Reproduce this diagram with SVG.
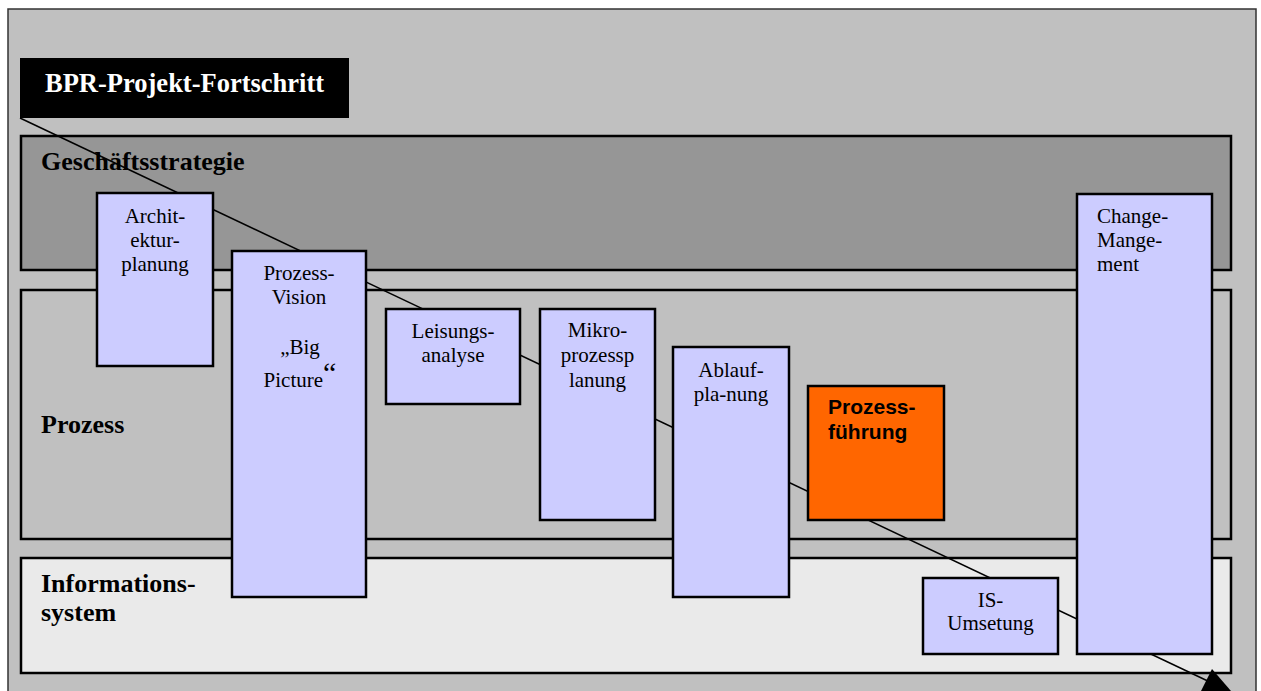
<svg xmlns="http://www.w3.org/2000/svg" width="1261" height="691" viewBox="0 0 1261 691">
<style>
.band{stroke:#000;stroke-width:2.5}
.box{fill:#ccccff;stroke:#000;stroke-width:2.5}
.t{font-family:"Liberation Serif","Times New Roman",serif;font-size:21px;fill:#000}
.c{text-anchor:middle}
.lbl{font-family:"Liberation Serif","Times New Roman",serif;font-size:26px;font-weight:bold;fill:#000}
.conn{stroke:#000;stroke-width:1.5;fill:none}
</style>
<rect x="0" y="0" width="1261" height="691" fill="#ffffff"/>
<rect id="frame" x="8" y="9" width="1248" height="700" fill="#c0c0c0" stroke="#333" stroke-width="1.5"/>

<g id="band-strategie">
<rect class="band" x="21" y="136" width="1210" height="134" fill="#969696"/>
<text class="lbl" x="41" y="170">Geschäftsstrategie</text>
</g>
<g id="band-prozess">
<rect class="band" x="21" y="290" width="1210" height="249" fill="#c0c0c0"/>
<text class="lbl" x="41" y="433">Prozess</text>
</g>
<g id="band-is">
<rect class="band" x="21" y="558" width="1210" height="115" fill="#eaeaea"/>
<text class="lbl" x="41" y="592">Informations-</text>
<text class="lbl" x="41" y="621">system</text>
</g>

<g id="title">
<rect x="20" y="58" width="329" height="60" fill="#000"/>
<text x="45" y="92" font-family="'Liberation Serif','Times New Roman',serif" font-size="26.5" font-weight="bold" fill="#fff">BPR-Projekt-Fortschritt</text>
</g>

<g id="connectors">
<line class="conn" x1="20" y1="118" x2="1212" y2="683"/>
<polygon points="1212,669 1201,691 1231,691" fill="#000"/>
</g>

<g id="architektur">
<rect class="box" x="97" y="193" width="116" height="173"/>
<text class="t c" x="155" y="223">Archit-</text>
<text class="t c" x="155" y="247">ektur-</text>
<text class="t c" x="155" y="271">planung</text>
</g>
<g id="vision">
<rect class="box" x="232" y="251" width="134" height="346"/>
<text class="t c" x="299" y="280">Prozess-</text>
<text class="t c" x="299" y="304">Vision</text>
<text class="t c" x="300" y="354">„Big</text>
<text class="t c" x="300" y="387">Picture<tspan font-size="30" dy="-4">“</tspan></text>
</g>
<g id="leistung">
<rect class="box" x="386" y="309" width="134" height="95"/>
<text class="t c" x="453" y="338">Leisungs-</text>
<text class="t c" x="453" y="362">analyse</text>
</g>
<g id="mikro">
<rect class="box" x="540" y="309" width="115" height="211"/>
<text class="t c" x="597.5" y="337">Mikro-</text>
<text class="t c" x="597.5" y="362">prozessp</text>
<text class="t c" x="597.5" y="387">lanung</text>
</g>
<g id="ablauf">
<rect class="box" x="673" y="347" width="116" height="250"/>
<text class="t c" x="731" y="377">Ablauf-</text>
<text class="t c" x="731" y="401">pla-nung</text>
</g>
<g id="fuehrung">
<rect x="808" y="386" width="136" height="134" fill="#ff6600" stroke="#000" stroke-width="2.5"/>
<text x="828" y="414" font-family="'Liberation Sans',Arial,sans-serif" font-size="21" font-weight="bold" fill="#000">Prozess-</text>
<text x="828" y="439" font-family="'Liberation Sans',Arial,sans-serif" font-size="21" font-weight="bold" fill="#000">führung</text>
</g>
<g id="is-umsetzung">
<rect class="box" x="923" y="578" width="135" height="76"/>
<text class="t c" x="990.5" y="607">IS-</text>
<text class="t c" x="990.5" y="630">Umsetung</text>
</g>
<g id="change">
<rect class="box" x="1077" y="194" width="135" height="460"/>
<text class="t" x="1097" y="223">Change-</text>
<text class="t" x="1097" y="247">Mange-</text>
<text class="t" x="1097" y="271">ment</text>
</g>
</svg>
